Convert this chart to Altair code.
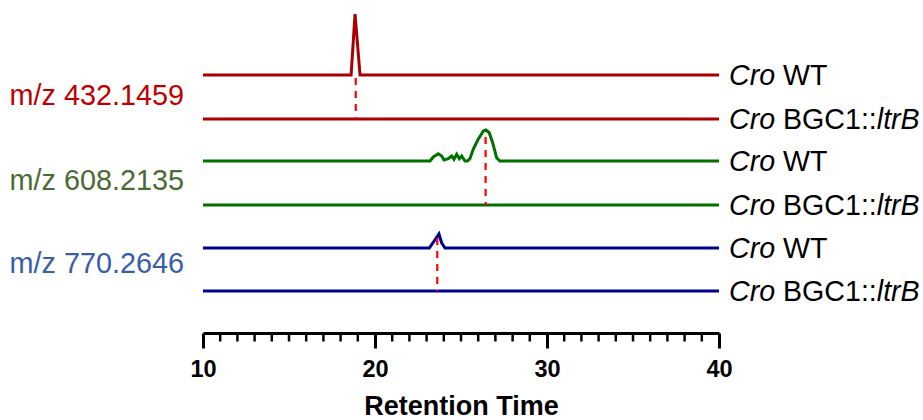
import altair as alt
import pandas as pd

# ---------------- data ----------------
traces = ["432 WT", "432 KO", "608 WT", "608 KO", "770 WT", "770 KO"]
is_wt = [True, False, True, False, True, False]

# chromatogram points (retention time, intensity above own baseline)
rt_432_wt = [10, 18.61, 18.84, 19.13, 40]
int_432_wt = [0, 0, 61, 0, 0]
rt_608_wt = [10, 23.20, 23.39, 23.68, 23.88, 24.01, 24.26, 24.46, 24.59, 24.75,
             24.90, 25.04, 25.23, 25.37, 25.52, 25.71, 26.00, 26.30, 26.45, 26.64,
             26.84, 27.07, 27.26, 40]
int_608_wt = [0, 0, 4, 7.3, 5, 1, 2.3, 5, 1.7, 6.7,
              2.3, 5, 0, 0, 2.3, 11.7, 21.7, 30, 31, 28.3,
              18.3, 3.3, 0, 0]
rt_770_wt = [10, 23.16, 23.72, 23.82, 23.88, 24.07, 40]
int_770_wt = [0, 0, 14, 8.3, 5, 0, 0]
rt_flat = [10, 40]
int_flat = [0, 0]

trace_rt = [rt_432_wt, rt_flat, rt_608_wt, rt_flat, rt_770_wt, rt_flat]
trace_int = [int_432_wt, int_flat, int_608_wt, int_flat, int_770_wt, int_flat]

# marked retention times (dashed red lines)
mz_labels = ["m/z 432.1459", "m/z 608.2135", "m/z 770.2646"]
mark_rt = [18.88, 26.43, 23.62]
mark_top = [-3, 24, 10]          # top of dashed line relative to WT baseline

x_ticks_major = [10, 20, 30, 40]
x_ticks_minor = [t for t in range(10, 41) if t % 10 != 0]

# ---------------- layout / style ----------------
offsets = [258, 214, 172, 128, 85, 42]   # vertical stacking of traces
label_y = [228, 143, 60]
trace_colors = ["#A80000", "#A80000", "#007000", "#007000", "#000090", "#000090"]
label_keys = ["lab432", "lab608", "lab770"]
label_colors = ["#C00000", "#4B6B34", "#3A5DA8"]
FONT = "Liberation Sans"
RFS = 28.6   # right label font size
LFS = 28.8   # left label font size

rows = []
for name, off, rts, ints in zip(traces, offsets, trace_rt, trace_int):
    for r, v in zip(rts, ints):
        rows.append({"trace": name, "rt": r, "yv": off + v})
lines_df = pd.DataFrame(rows)

dash_df = pd.DataFrame({
    "rt": mark_rt,
    "top": [offsets[2 * i] + mark_top[i] for i in range(3)],
    "bot": [offsets[2 * i + 1] for i in range(3)],
})

lab_df = pd.DataFrame({
    "yv": offsets,
    "tail": ["WT" if w else "BGC1::" for w in is_wt],
    "ital": ["" if w else "ltrB" for w in is_wt],
})
mz_df = pd.DataFrame({"key": label_keys, "text": mz_labels, "yv": label_y})
minor_df = pd.DataFrame({"t": x_ticks_minor})

xscale = alt.Scale(domain=[10, 40], nice=False, zero=False)
yscale = alt.Scale(domain=[0, 333], nice=False, zero=False)
cscale = alt.Scale(domain=traces + label_keys, range=trace_colors + label_colors)

xaxis = alt.Axis(values=x_ticks_major, format="d", tickSize=15, tickWidth=3,
                 tickColor="black", domainWidth=3, domainColor="black",
                 labelFontSize=23.5, labelFontWeight="bold", labelFont=FONT,
                 labelColor="black", labelPadding=9, labelFlush=False,
                 title="Retention Time", titleFontSize=27, titleFontWeight="bold",
                 titleFont=FONT, titleColor="black", titlePadding=13, grid=False)

X = lambda f: alt.X(f, scale=xscale, axis=xaxis, title="Retention Time")
Y = lambda f: alt.Y(f, scale=yscale, axis=None)

lines = alt.Chart(lines_df).mark_line(strokeWidth=3, strokeCap="butt",
                                      strokeJoin="miter").encode(
    x=X("rt:Q"), y=Y("yv:Q"),
    color=alt.Color("trace:N", scale=cscale, legend=None),
)

dashes = alt.Chart(dash_df).mark_rule(color="#FF0000", strokeWidth=2.2,
                                      strokeDash=[7, 6]).encode(
    x=X("rt:Q"), y=Y("top:Q"), y2="bot:Q",
)

minor = alt.Chart(minor_df).mark_rule(color="black", strokeWidth=2.5).encode(
    x=X("t:Q"),
    y=alt.YDatum(0, scale=yscale, axis=None),
    y2=alt.Y2Datum(-8.5),
)

xr = alt.XDatum(40, scale=xscale, axis=xaxis, title="Retention Time")
xl = alt.XDatum(10, scale=xscale, axis=xaxis, title="Retention Time")

cro = alt.Chart(lab_df).mark_text(font=FONT, fontSize=RFS, fontStyle="italic",
                                  align="left", baseline="alphabetic",
                                  dx=10, dy=10, color="black").encode(
    x=xr, y=Y("yv:Q"), text=alt.value("Cro"))
tail = alt.Chart(lab_df).mark_text(font=FONT, fontSize=RFS, align="left",
                                   baseline="alphabetic", dx=10 + 1.889 * RFS, dy=10,
                                   color="black").encode(
    x=xr, y=Y("yv:Q"), text="tail:N")
ital = alt.Chart(lab_df).mark_text(font=FONT, fontSize=RFS, fontStyle="italic",
                                   align="left", baseline="alphabetic",
                                   dx=10 + 5.168 * RFS, dy=10, color="black").encode(
    x=xr, y=Y("yv:Q"), text="ital:N")

mz = alt.Chart(mz_df).mark_text(font=FONT, fontSize=LFS, align="right",
                                baseline="alphabetic", dx=-19).encode(
    x=xl, y=Y("yv:Q"), text="text:N",
    color=alt.Color("key:N", scale=cscale, legend=None))

chart = alt.layer(lines, dashes, minor, cro, tail, ital, mz).properties(
    width=516, height=333,
    padding={"left": 203, "top": 0, "right": 204, "bottom": 87},
    autosize=alt.AutoSizeParams(type="none"),
    background="white",
).configure_view(stroke="transparent", strokeWidth=0)

chart.save("out.html", embed_options={"renderer": "svg", "actions": False})
